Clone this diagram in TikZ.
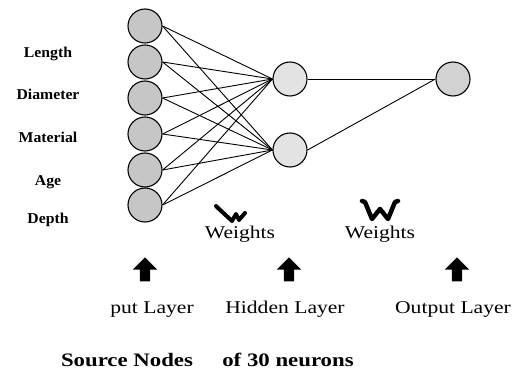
\documentclass[tikz,border=0pt]{standalone}
\usepackage{fontspec}
\setmainfont{Liberation Serif}[FakeStretch=1.2]
\newfontfamily\featfont{Liberation Serif}[FakeStretch=1.05]
\usepackage{tikz}
\usetikzlibrary{shapes,arrows.meta,positioning,calc}
\tikzset{
  neuron/.style={circle,draw,line width=1.1pt,minimum size=34pt,inner sep=0pt},
  inneuron/.style={neuron,fill=gray!45},
  hidneuron/.style={neuron,fill=gray!22},
  outneuron/.style={neuron,fill=gray!35},
  link/.style={line width=0.9pt},
  feat/.style={font=\featfont\fontsize{15}{15}\selectfont\bfseries,anchor=base},
  layertxt/.style={font=\fontsize{18}{18}\selectfont,anchor=base},
  bottxt/.style={font=\fontsize{19}{19}\selectfont\bfseries,anchor=base},
  uparr/.style={single arrow,shape border rotate=90,fill=black,draw=none,
                minimum height=24pt,inner sep=5pt,
                single arrow head extend=7pt},
  wsym/.pic={\draw[line width=4.5pt,line join=round,line cap=round]
               (-18,-9) -- (-15,-8) -- (-8,9) -- (0,-1) -- (8,9) -- (15,-8) -- (18,-9);},
  wsymtilt/.pic={\draw[line width=4pt,line join=round,line cap=round]
               (-15,-8) -- (-13,-6) -- (1,7) -- (5,0) -- (8,6) -- (14,-1);},
}

\begin{document}
\begin{tikzpicture}[x=1pt,y=-1pt]
        \useasboundingbox (0,0) rectangle (516,371);
        % input features
        \node[feat] (fLen) at (48,58) {Length};
        \node[feat] (fDia) at (48,100) {Diameter};
        \node[feat] (fMat) at (48,143) {Material};
        \node[feat] (fAge) at (48,186) {Age};
        \node[feat] (fDep) at (48,223) {Depth};
        % neurons
        \foreach \i/\y in {1/26,2/62,3/98,4/134,5/170,6/205}
          \node[inneuron] (i\i) at (145,\y) {};
        \node[hidneuron] (h1) at (290,79) {};
        \node[hidneuron] (h2) at (290,150) {};
        \node[outneuron] (o) at (453,79) {};
        \foreach \i in {1,...,6}{
          \draw[link] (i\i.east) -- (h1.west);
          \draw[link] (i\i.east) -- (h2.west);
        }
        \draw[link] (h1) -- (o);
        \draw[link] (h2.east) -- (o.west);
        % weights
        \pic at (231,214) {wsymtilt};
        \pic at (380,210) {wsym};
        \node[layertxt] (w1) at (240,238) {Weights};
        \node[layertxt] (w2) at (380,238) {Weights};
        % layers
        \node[uparr] (a1) at (145,272) {};
        \node[uparr] (a2) at (289,272) {};
        \node[uparr] (a3) at (457,272) {};
        \node[layertxt] (lIn) at (152,313) {put Layer};
        \node[layertxt] (lHid) at (285,313) {Hidden Layer};
        \node[layertxt] (lOut) at (453,313) {Output Layer};
        \node[bottxt] (src) at (127,366) {Source Nodes};
        \node[bottxt] (n30) at (288,366) {of 30 neurons};
      \end{tikzpicture}
\end{document}
